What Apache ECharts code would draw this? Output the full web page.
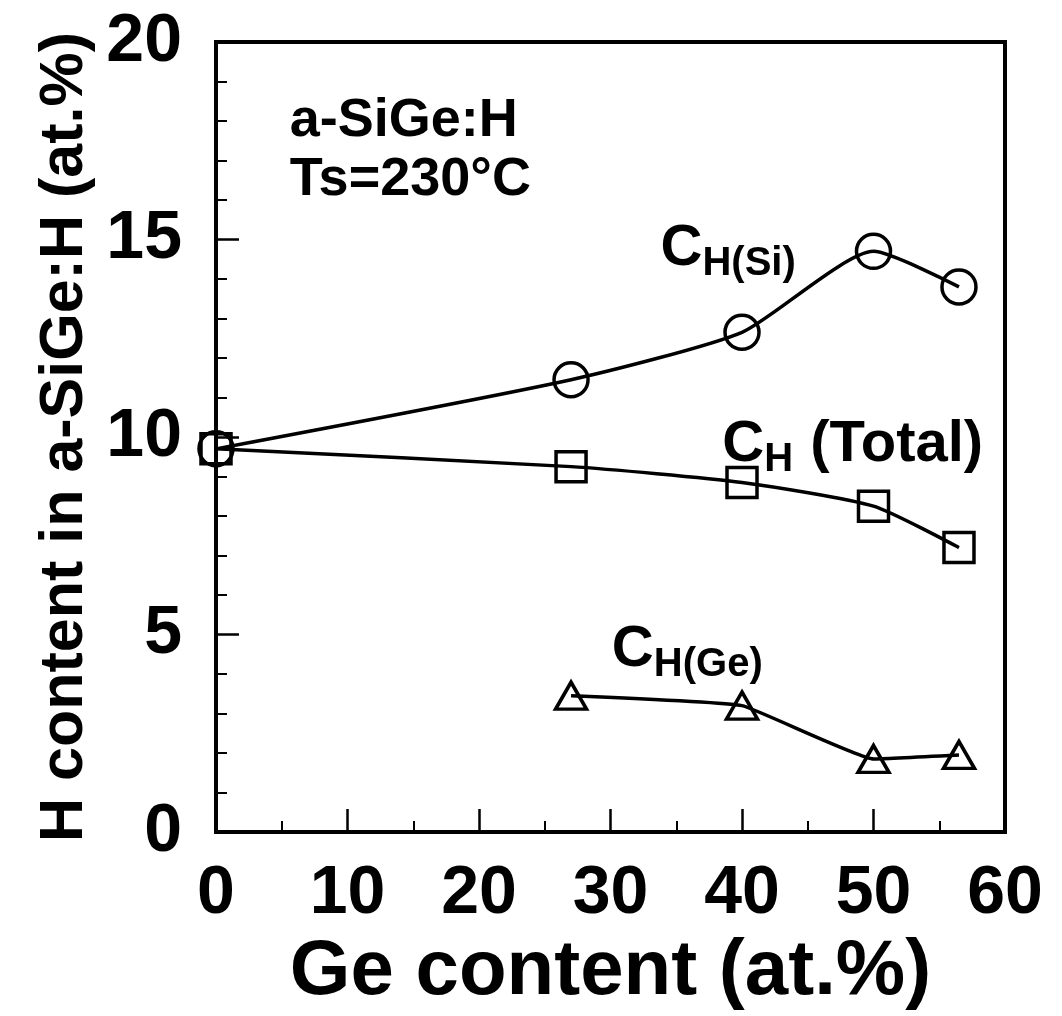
<!DOCTYPE html>
<html>
<head>
<meta charset="utf-8">
<script src="https://cdn.jsdelivr.net/npm/echarts@6/dist/echarts.min.js"></script>
<style>
  html, body { margin: 0; padding: 0; background: #fff; }
  #chart { width: 1062px; height: 1016px; }
</style>
</head>
<body>
<div id="chart"></div>
<script>
// Ge content (at.%) of each film
const geContent = [0, 27, 40, 50, 56.5];
// Hydrogen content (at.%) bonded to Si, total, and bonded to Ge
const hSi = [9.7, 11.45, 12.65, 14.7, 13.8];
const hTotal = [9.7, 9.25, 8.85, 8.25, 7.2];
const hGe = [null, 3.45, 3.2, 1.85, 1.95];

const FONT = '"Liberation Sans", Arial, Helvetica, sans-serif';

function pairs(xs, ys) {
  const out = [];
  xs.forEach((x, i) => { if (ys[i] != null) out.push([x, ys[i]]); });
  return out;
}

const markerStyle = { color: 'rgba(0,0,0,0)', borderColor: '#000', borderWidth: 3.5 };
const lineStyle = { color: '#000', width: 3.5 };

const chart = echarts.init(document.getElementById('chart'), null, { renderer: 'canvas' });

chart.setOption({
  animation: false,
  backgroundColor: '#fff',
  grid: {
    left: 216, right: 57, top: 42, bottom: 184,
    outerBoundsMode: 'none', containLabel: false,
    show: true, borderColor: '#000', borderWidth: 4, backgroundColor: 'transparent'
  },
  xAxis: {
    type: 'value', min: 0, max: 60, interval: 10,
    name: 'Ge content (at.%)',
    nameLocation: 'middle', nameGap: 101,
    nameTextStyle: { fontFamily: FONT, fontWeight: 'bold', fontSize: 78, color: '#000' },
    axisLine: { show: true, lineStyle: { color: '#000', width: 4 } },
    axisTick: { show: true, inside: true, length: 23, lineStyle: { color: '#000', width: 2.5 } },
    minorTick: { show: true, splitNumber: 2, length: 11, lineStyle: { color: '#000', width: 2 } },
    splitLine: { show: false },
    axisLabel: { margin: 28, fontFamily: FONT, fontWeight: 'bold', fontSize: 68, color: '#000' }
  },
  yAxis: {
    type: 'value', min: 0, max: 20, interval: 5,
    name: 'H content in a-SiGe:H (at.%)',
    nameLocation: 'middle', nameGap: 120,
    nameTextStyle: { fontFamily: FONT, fontWeight: 'bold', fontSize: 61, color: '#000' },
    axisLine: { show: true, lineStyle: { color: '#000', width: 4 } },
    axisTick: { show: true, inside: true, length: 23, lineStyle: { color: '#000', width: 2.5 } },
    minorTick: { show: true, splitNumber: 5, length: 11, lineStyle: { color: '#000', width: 2 } },
    splitLine: { show: false },
    axisLabel: { margin: 34, fontFamily: FONT, fontWeight: 'bold', fontSize: 68, color: '#000' }
  },
  series: [
    {
      name: 'CH(Si)', type: 'line', data: pairs(geContent, hSi), smooth: 0.2,
      symbol: 'circle', symbolSize: 34, itemStyle: markerStyle, lineStyle: lineStyle, z: 3
    },
    {
      name: 'CH(Total)', type: 'line', data: pairs(geContent, hTotal), smooth: 0.2,
      symbol: 'rect', symbolSize: 30, itemStyle: markerStyle, lineStyle: lineStyle, z: 3
    },
    {
      name: 'CH(Ge)', type: 'line', data: pairs(geContent, hGe), smooth: 0.1,
      symbol: 'triangle', symbolSize: [31, 27], itemStyle: markerStyle, lineStyle: lineStyle, z: 3
    }
  ]
});

// Text annotations anchored in data coordinates: [x, y] at left edge / vertical centre
const annotations = [
  { at: [5.6, 18.0], parts: [{ text: 'a-SiGe:H', size: 54, dx: 0, dy: 0 }] },
  { at: [5.6, 16.5], parts: [{ text: 'Ts=230°C', size: 54, dx: 0, dy: 0 }] },
  { at: [33.8, 14.75], parts: [
      { text: 'C', size: 58, dx: 0, dy: 0 },
      { text: 'H(Si)', size: 40, dx: 42, dy: 15 }
  ] },
  { at: [38.5, 9.8], parts: [
      { text: 'C', size: 58, dx: 0, dy: 0 },
      { text: 'H', size: 40, dx: 42, dy: 15 },
      { text: '(Total)', size: 58, dx: 88, dy: 0 }
  ] },
  { at: [30.1, 4.6], parts: [
      { text: 'C', size: 58, dx: 0, dy: 0 },
      { text: 'H(Ge)', size: 40, dx: 42, dy: 15 }
  ] }
];

const graphics = [];
annotations.forEach(a => {
  const p = chart.convertToPixel({ gridIndex: 0 }, a.at);
  a.parts.forEach(part => {
    graphics.push({
      type: 'text', x: p[0] + part.dx, y: p[1] + part.dy, z: 10,
      style: {
        text: part.text, fill: '#000',
        font: 'bold ' + part.size + 'px ' + FONT,
        textAlign: 'left', textVerticalAlign: 'middle'
      }
    });
  });
});
chart.setOption({ graphic: graphics });
</script>
</body>
</html>
